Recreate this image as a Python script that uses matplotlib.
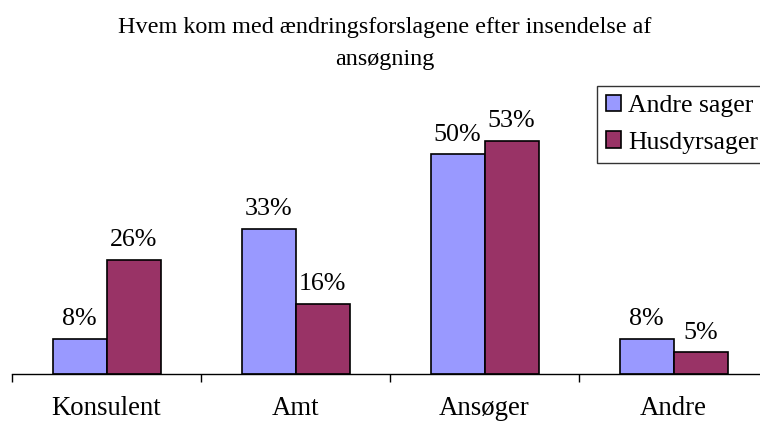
import matplotlib.pyplot as plt
import numpy as np

categories = ["Konsulent", "Amt", "Ansøger", "Andre"]
andre_sager = [8, 33, 50, 8]
husdyrsager = [26, 16, 53, 5]
series_names = ["Andre sager", "Husdyrsager"]
title_lines = ["Hvem kom med ændringsforslagene efter insendelse af", "ansøgning"]

plt.rcParams['font.family'] = ['Liberation Serif', 'DejaVu Serif']

W, H = 760, 422
fig = plt.figure(figsize=(W / 100, H / 100), dpi=100)
# axes: left edge at x=12 px, one category = 189 px, baseline at y=374 px
ax = fig.add_axes([12 / W, (H - 374) / H, 4 * 189 / W, (374 - 90) / H])

x = np.arange(len(categories))
bw = 54 / 189
b1 = ax.bar(x - bw / 2, andre_sager, bw, color="#9999FF", edgecolor="black", linewidth=1.2, label=series_names[0])
b2 = ax.bar(x + bw / 2, husdyrsager, bw, color="#993366", edgecolor="black", linewidth=1.2, label=series_names[1])

for bars, vals in ((b1, andre_sager), (b2, husdyrsager)):
    for r, v in zip(bars, vals):
        ax.annotate(f"{v}%", (r.get_x() + r.get_width() / 2, v), xytext=(0, 6),
                    textcoords="offset points", ha="center", va="bottom", fontsize=18.7)

ax.set_xlim(-0.5, 3.5)
ax.set_ylim(0, (374 - 90) / 4.4)
for s in ("top", "right", "left"):
    ax.spines[s].set_visible(False)
ax.spines["bottom"].set_linewidth(1.0)
ax.set_yticks([])
ax.set_xticks(x)
ax.set_xticklabels(categories, fontsize=19.3)
ax.tick_params(axis="x", which="major", length=0, pad=16)
ax.set_xticks(np.arange(-0.5, 4, 1), minor=True)
ax.tick_params(axis="x", which="minor", length=6, width=1.0, direction="out")

# title: two centred lines, baselines at y=33 and y=65 px
for line, base in zip(title_lines, (33, 65)):
    fig.text(385 / W, 1 - base / H, line, ha="center", va="baseline", fontsize=17.4)

# legend runs off the right edge, as in the original
leg = fig.legend(handles=[b1, b2], loc="upper left", bbox_to_anchor=(597 / W, 1 - 86 / H),
                 fontsize=18.5, frameon=True, fancybox=False, edgecolor="black",
                 handlelength=0.6, handleheight=0.6, handletextpad=0.25, borderpad=0.35,
                 labelspacing=0.55, borderaxespad=0)
leg.get_frame().set_linewidth(1.0)

fig.savefig("out.png", dpi=100)
